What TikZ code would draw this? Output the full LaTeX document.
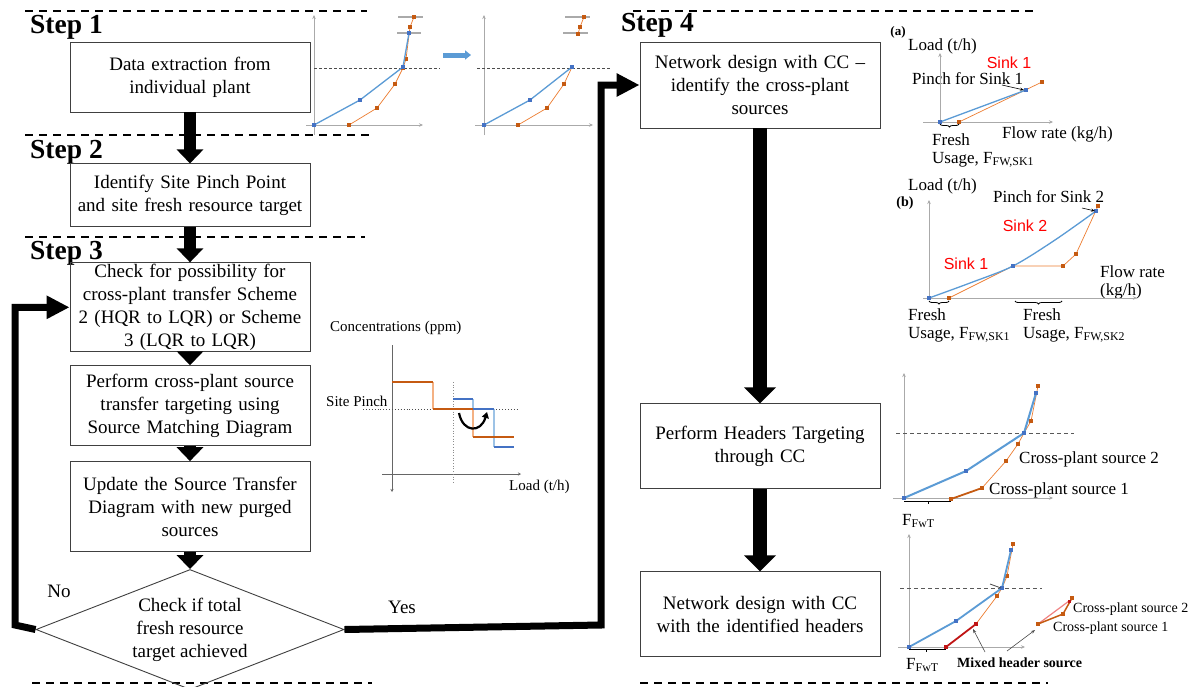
\documentclass[tikz,border=0pt]{standalone}
\usepackage{fontspec}
\setmainfont{Liberation Serif}
\newfontfamily\sinkfont{Liberation Sans}
\usepackage{xcolor}
\usepackage{tikz}
\usetikzlibrary{shapes.geometric, arrows.meta, positioning, decorations.pathreplacing, plotmarks}

\definecolor{cblue}{RGB}{91,155,213}
\definecolor{cbluedark}{RGB}{68,114,196}
\definecolor{clightblue}{RGB}{157,195,230}
\definecolor{corange}{RGB}{237,125,49}
\definecolor{corangedark}{RGB}{197,90,17}
\definecolor{clightorange}{RGB}{244,177,131}
\definecolor{cred}{RGB}{192,20,20}
\definecolor{cpink}{RGB}{240,130,130}
\definecolor{caxis}{RGB}{170,170,170}

\newcommand{\boxfont}{\fontsize{19}{23}\selectfont}
\newcommand{\stepfont}{\fontsize{27.5}{30}\selectfont\bfseries}
\newcommand{\axisfont}{\fontsize{17}{19}\selectfont}
\newcommand{\pinchfont}{\fontsize{15}{17}\selectfont}
\newcommand{\notefont}{\fontsize{14}{16}\selectfont}

\begin{document}
\begin{tikzpicture}[x=1pt, y=-1pt]
        \tikzstyle{process} = [rectangle, draw=black!75, line width=0.9pt, minimum width=240pt, text width=236pt, align=center, inner xsep=2pt, inner ysep=1pt, font=\boxfont]
        \tikzstyle{decision} = [diamond, draw=black!75, line width=0.9pt, aspect=2.57, minimum width=308pt, minimum height=120pt, inner sep=0pt, align=center, font=\boxfont]
        \tikzstyle{steplabel} = [anchor=base west, inner sep=0pt, font=\stepfont]
        \tikzstyle{flowarrow} = [line width=12pt, -{Triangle[length=14pt, width=26pt]}]
        \tikzstyle{bigflow} = [line width=14pt, -{Triangle[length=16pt, width=31pt]}]
        \tikzstyle{loopline} = [line width=7pt, line join=miter, -{Triangle[length=23pt, width=22pt]}]
        \tikzstyle{separator} = [line width=1.6pt, dash pattern=on 8pt off 6pt]
        \tikzstyle{axis} = [draw=caxis, line width=1pt, -{Stealth[length=4pt, width=3.5pt]}]
        \tikzstyle{pinchline} = [draw=black!70, line width=0.8pt, dash pattern=on 3pt off 2pt]
        \tikzstyle{bluecurve} = [draw=cblue, line width=1.3pt, mark=square*, mark size=1.5pt, mark options={draw=cbluedark, fill=cbluedark, line width=0.4pt}]
        \tikzstyle{orangecurve} = [draw=corange, line width=0.7pt, mark=square*, mark size=1.5pt, mark options={draw=corangedark, fill=corangedark, line width=0.4pt}]
        \tikzstyle{chartlabel} = [inner sep=0pt, anchor=west, font=\axisfont]
        \tikzstyle{sinklabel} = [inner sep=0pt, text=red, font=\sinkfont\fontsize{16}{18}\selectfont]
        \tikzstyle{fresh} = [decorate, decoration={brace, mirror, amplitude=3pt}, line width=0.8pt]
        \tikzstyle{pointer} = [line width=0.6pt, -{Stealth[length=4pt, width=3pt]}]

        \fill[white] (0,0) rectangle (1193,686);
        \useasboundingbox (0,0) rectangle (1193,686);

        % step separators
        \draw[separator] (25,11) -- (367,11);
        \draw[separator] (25,135) -- (373,135);
        \draw[separator] (25,237) -- (365,237);
        \draw[separator] (32,683) -- (372,683);
        \draw[separator] (633,11) -- (1037,11);
        \draw[separator] (640,683) -- (1048,683);

        \node (stepone) [steplabel] at (30,33) {Step 1};
        \node (steptwo) [steplabel] at (30,158) {Step 2};
        \node (stepthree) [steplabel] at (30,259) {Step 3};
        \node (stepfour) [steplabel] at (621,31) {Step 4};

        % left column
        \node (extract) [process, minimum height=70pt] at (190,77) {Data extraction from\\individual plant};
        \node (pinch) [process, minimum height=63pt, below=51pt of extract] {Identify Site Pinch Point\\and site fresh resource target};
        \node (possib) [process, minimum height=89pt, below=35pt of pinch] {Check for possibility for\\cross-plant transfer Scheme\\2 (HQR to LQR) or Scheme\\3 (LQR to LQR)};
        \node (match) [process, minimum height=80pt, below=13pt of possib] {Perform cross-plant source\\transfer targeting using\\Source Matching Diagram};
        \node (update) [process, minimum height=90pt, below=15pt of match] {Update the Source Transfer\\Diagram with new purged\\sources};
        \node (check) [decision, below=17pt of update] {Check if total\\fresh resource\\target achieved};

        % right column
        \node (netcc) [process, minimum height=86pt] at (760,85) {Network design with CC --\\identify the cross-plant\\sources};
        \node (headers) [process, minimum height=85pt, below=275pt of netcc] {Perform Headers Targeting\\through CC};
        \node (design) [process, minimum height=85pt, below=82pt of headers] {Network design with CC\\with the identified headers};

        \draw[flowarrow] (extract) -- (pinch);
        \draw[flowarrow] (pinch) -- (possib);
        \draw[flowarrow] (possib) -- (match);
        \draw[flowarrow] (match) -- (update);
        \draw[flowarrow] (update) -- (check);
        \draw[bigflow] (netcc) -- (headers);
        \draw[bigflow] (headers) -- (design);

        \coordinate (noturn) at (15,625);
        \coordinate (yesturn) at (601,625);
        \draw[loopline] (check.west) -- (noturn) |- (possib.west);
        \draw[loopline] (check.east) -- (yesturn) |- (netcc.west);
        \node (nolabel) [font=\boxfont] at (59,591) {No};
        \node (yeslabel) [font=\boxfont] at (402,607) {Yes};

        % step 1 composite curves
        \draw[axis] (314,135) -- (314,15);
        \draw[axis] (306,125) -- (423,125);
        \draw[pinchline] (314,68) -- (440,68);
        \draw[draw=caxis, line width=1.2pt] (398,17) -- (423,17);
        \draw[draw=caxis, line width=1.2pt] (397,33) -- (421,33);
        \draw[orangecurve] plot coordinates {(349,125) (377,108) (395,84) (403,68) (406,59) (410,27) (414,17)};
        \draw[bluecurve] plot coordinates {(314,125) (360,100) (403,67) (409,33)};

        \draw[draw=cblue, line width=5pt, -{Triangle[length=6pt, width=9pt]}] (443,55) -- (471,55);

        \draw[axis] (484,135) -- (484,15);
        \draw[axis] (475,125) -- (593,125);
        \draw[pinchline] (477,68) -- (610,68);
        \draw[draw=caxis, line width=1.2pt] (565,17) -- (590,17);
        \draw[draw=caxis, line width=1.2pt] (563,33) -- (588,33);
        \draw[orangecurve] plot coordinates {(584,17) (580,27) (578,34)};
        \draw[orangecurve] plot coordinates {(518,125) (547,108) (564,84) (572,67)};
        \draw[bluecurve] plot coordinates {(484,125) (530,100) (572,67)};

        % step 3 source matching diagram
        \node (concaxis) [chartlabel, font=\pinchfont] at (330,328) {Concentrations (ppm)};
        \node (loadaxis) [chartlabel, font=\pinchfont] at (509,487) {Load (t/h)};
        \node (sitepinch) [chartlabel, font=\pinchfont] at (326,401) {Site Pinch};
        \draw[draw=black!60, line width=0.8pt, -{Stealth[length=3pt, width=3pt]}] (392,345) -- (392,492);
        \draw[draw=black!60, line width=0.8pt, -{Stealth[length=3pt, width=3pt]}] (382,474) -- (521,474);
        \draw[draw=black!70, line width=0.9pt, dotted] (363,409) -- (518,409);
        \draw[draw=black!45, line width=0.7pt, dotted] (453,382) -- (453,482);
        \draw[draw=clightorange, line width=1.5pt] (433,382) -- (433,409);
        \draw[draw=clightorange, line width=1.5pt] (473,409) -- (473,437);
        \draw[draw=clightblue, line width=1.5pt] (473,399) -- (473,409);
        \draw[draw=clightblue, line width=1.5pt] (494,409) -- (494,447);
        \draw[draw=corangedark, line width=1.8pt] (392,382) -- (433,382);
        \draw[draw=corangedark, line width=1.8pt] (433,409) -- (473,409);
        \draw[draw=corangedark, line width=1.8pt] (473,437) -- (514,437);
        \draw[draw=cbluedark, line width=1.8pt] (453,399) -- (473,399);
        \draw[draw=cbluedark, line width=1.8pt] (473,409) -- (494,409);
        \draw[draw=cbluedark, line width=1.8pt] (494,447) -- (514,447);
        \draw[line width=2.2pt, -{Triangle[length=6pt, width=7pt]}] (459,413) .. controls (463,433) and (481,433) .. (487,412);

        % step 4 (a)
        \node (taga) [inner sep=0pt, font=\fontsize{13}{15}\selectfont\bfseries] at (898,32) {(a)};
        \node (loada) [chartlabel] at (908,46) {Load (t/h)};
        \node (sinkonea) [sinklabel] at (1009,63) {Sink 1};
        \node (pincha) [chartlabel] at (912,79) {Pinch for Sink 1};
        \node (flowa) [chartlabel] at (1002,134) {Flow rate (kg/h)};
        \node (fresha) [chartlabel] at (932,140) {Fresh};
        \node (usagea) [chartlabel] at (932,160) {Usage, F\textsubscript{FW,SK1}};
        \draw[axis] (940,124) -- (940,53);
        \draw[axis] (923,122) -- (1053,122);
        \draw[orangecurve] plot coordinates {(959,122) (1042,82)};
        \draw[bluecurve] plot coordinates {(940,122) (1026,90)};
        \draw[pointer] (1002,85) -- (1024,90);
        \draw[fresh] (940,124) -- (959,124);

        % step 4 (b)
        \node (tagb) [inner sep=0pt, font=\fontsize{14}{16}\selectfont\bfseries] at (905,203) {(b)};
        \node (loadb) [chartlabel] at (908,186) {Load (t/h)};
        \node (pinchb) [chartlabel] at (993,197) {Pinch for Sink 2};
        \node (sinktwob) [sinklabel] at (1025,226) {Sink 2};
        \node (sinkoneb) [sinklabel] at (966,264) {Sink 1};
        \node (flowb) [chartlabel] at (1100,272) {Flow rate};
        \node (unitb) [chartlabel] at (1100,291) {(kg/h)};
        \node (freshb) [chartlabel] at (908,315) {Fresh};
        \node (usageb) [chartlabel] at (908,335) {Usage, F\textsubscript{FW,SK1}};
        \node (freshc) [chartlabel] at (1023,315) {Fresh};
        \node (usagec) [chartlabel] at (1023,335) {Usage, F\textsubscript{FW,SK2}};
        \draw[axis] (929,300) -- (929,200);
        \draw[axis] (923,298) -- (1137,298);
        \draw[orangecurve] plot coordinates {(949,298) (1013,266) (1063,266) (1076,254) (1098,206)};
        \draw[bluecurve, mark indices={1,3,5}] plot[smooth] coordinates {(929,298) (970,283) (1013,266) (1055,240) (1096,211)};
        \draw[pointer] (1082,208) -- (1095,211);
        \draw[fresh] (929,301) -- (949,301);
        \draw[fresh] (1015,301) -- (1062,301);

        % step 4 header targeting
        \draw[axis] (904,500) -- (904,373);
        \draw[axis] (893,498) -- (1053,498);
        \draw[draw=black!65, line width=1pt, dash pattern=on 4pt off 3pt] (896,433) -- (1074,433);
        \draw[orangecurve] plot coordinates {(982,488) (1006,461) (1018,444) (1024,433) (1031,421) (1038,386)};
        \draw[orangecurve, draw=corangedark, line width=1.8pt] plot coordinates {(951,499) (982,488)};
        \draw[bluecurve, line width=2pt] plot coordinates {(904,498) (966,471) (1024,433) (1036,393)};
        \draw[line width=1pt] (904,501) -- (951,501);
        \draw[line width=1pt] (928,501) -- (928,504);
        \node (srctwo) [chartlabel] at (1019,459) {Cross-plant source 2};
        \node (srcone) [chartlabel] at (989,490) {Cross-plant source 1};
        \node (ffwtone) [chartlabel] at (902,521) {F\textsubscript{FwT}};

        % step 4 network with headers
        \draw[axis] (909,649) -- (909,534);
        \draw[axis] (898,647) -- (1025,647);
        \draw[draw=black!65, line width=1pt, dash pattern=on 4pt off 3pt] (900,588) -- (1042,588);
        \draw[orangecurve] plot coordinates {(976,624) (997,596) (1002,588) (1007,576) (1013,544)};
        \draw[orangecurve, draw=cred, line width=1.8pt, mark options={draw=cred, fill=cred}] plot coordinates {(946,647) (976,624)};
        \draw[bluecurve, line width=1.8pt] plot coordinates {(909,647) (956,621) (1002,588) (1011,550)};
        \draw[line width=0.8pt, draw=black!70] (990,584) -- (1001,588);
        \draw[draw=cpink, line width=1.2pt] (1038,624) -- (1069,601);
        \draw[orangecurve, draw=corangedark, line width=1.5pt] plot coordinates {(1038,624) (1063,614) (1072,598)};
        \fill[cred] (1068,600) rectangle ++(3,3);
        \draw[line width=1pt] (909,649) -- (946,649);
        \draw[line width=1pt] (926,649) -- (926,652);
        \node (srctwob) [chartlabel, font=\notefont] at (1073,609) {Cross-plant source 2};
        \node (srconeb) [chartlabel, font=\notefont] at (1053,628) {Cross-plant source 1};
        \node (mixed) [chartlabel, font=\notefont\bfseries] at (957,663) {Mixed header source};
        \node (ffwttwo) [chartlabel] at (906,665) {F\textsubscript{FwT}};
        \draw[pointer, draw=black!70] (985,652) -- (973,629);
        \draw[pointer, draw=black!70] (1007,651) -- (1035,630);
\end{tikzpicture}
\end{document}
